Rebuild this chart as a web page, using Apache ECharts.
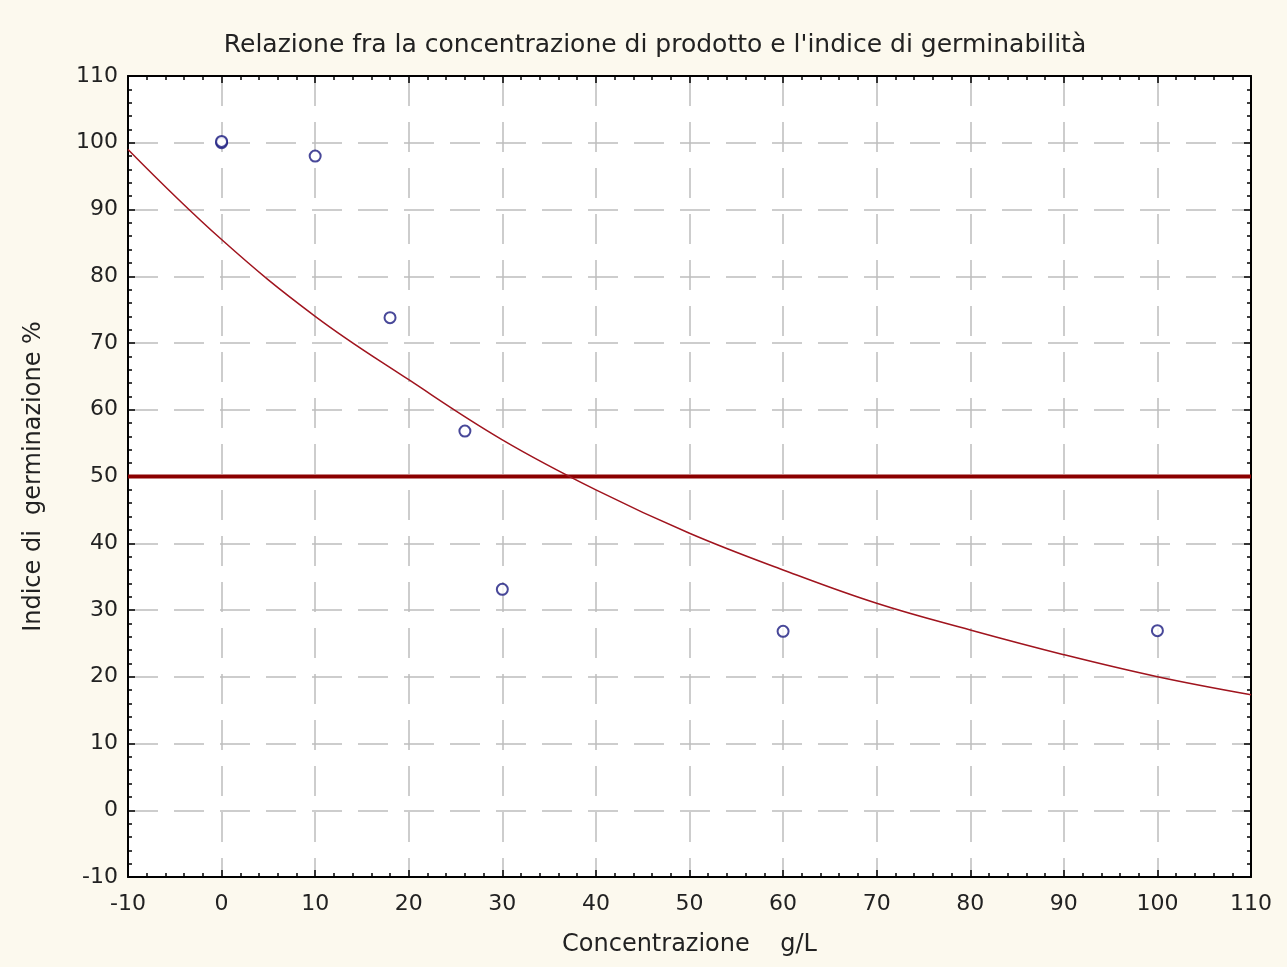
<!DOCTYPE html>
<html>
<head>
<meta charset="utf-8">
<script src="https://cdn.jsdelivr.net/npm/echarts@6.0.0/dist/echarts.min.js"></script>
<style>
  html, body { margin: 0; padding: 0; background: #fcf9ee; }
  #chart { width: 1287px; height: 967px; }
</style>
</head>
<body>
<div id="chart"></div>
<script>
    // Measured points (concentrazione g/L, indice di germinazione %)
    const pointsX = [0, 0, 10, 18, 26, 30, 60, 100];
    const pointsY = [100, 100.2, 98, 73.8, 56.8, 33.1, 26.8, 26.9];

    // Fitted curve, every 10 g/L
    const curveX = [-10, 0, 10, 20, 30, 40, 50, 60, 70, 80, 90, 100, 110];
    const curveY = [99, 85.5, 74, 64.5, 55.5, 48, 41.5, 36, 31, 27, 23.3, 20, 17.3];

    // 50% threshold line
    const thresholdX = [-10, 110];
    const thresholdY = [50, 50];

    const FONT = 'DejaVu Sans, Verdana, sans-serif';

    const chart = echarts.init(document.getElementById('chart'));

    function zipXY(xs, ys) {
        return xs.map((x, i) => [x, ys[i]]);
    }

    const tickStyle = { show: true, inside: true, length: 7, lineStyle: { color: '#000', width: 1.5 } };
    const minorTickStyle = { show: true, splitNumber: 5, length: 4, lineStyle: { color: '#000', width: 1.5 } };

    const option = {
        backgroundColor: '#fcf9ee',
        animation: false,
        title: {
            text: "Relazione fra la concentrazione di prodotto e l'indice di germinabilità",
            left: 650,
            textAlign: 'center',
            top: 28,
            textStyle: { fontFamily: FONT, fontSize: 25, fontWeight: 'normal', color: '#222' }
        },
        grid: {
            left: 128, right: 36, top: 76, bottom: 90,
            show: true, backgroundColor: '#ffffff', borderWidth: 0
        },
        xAxis: [
            {
                type: 'value', min: -10, max: 110, interval: 10,
                name: 'Concentrazione    g/L',
                nameLocation: 'middle', nameGap: 56,
                nameTextStyle: { fontFamily: FONT, fontSize: 24, color: '#222' },
                axisLine: { show: true, onZero: false, lineStyle: { color: '#000', width: 2 } },
                axisTick: tickStyle,
                minorTick: minorTickStyle,
                axisLabel: { fontFamily: FONT, fontSize: 22, color: '#222', margin: 16, showMinLabel: true, showMaxLabel: true },
                splitLine: { show: true, lineStyle: { color: '#bdbdbd', width: 1.5, type: [30, 16] } }
            },
            {
                type: 'value', min: -10, max: 110, interval: 10, position: 'top',
                axisLine: { show: true, onZero: false, lineStyle: { color: '#000', width: 2 } },
                axisTick: tickStyle,
                minorTick: minorTickStyle,
                axisLabel: { show: false },
                splitLine: { show: false }
            }
        ],
        yAxis: [
            {
                type: 'value', min: -10, max: 110, interval: 10,
                name: 'Indice di  germinazione %',
                nameLocation: 'middle', nameGap: 82, nameRotate: 90,
                nameTextStyle: { fontFamily: FONT, fontSize: 24, color: '#222' },
                axisLine: { show: true, onZero: false, lineStyle: { color: '#000', width: 2 } },
                axisTick: tickStyle,
                minorTick: minorTickStyle,
                axisLabel: { fontFamily: FONT, fontSize: 22, color: '#222', margin: 10, showMinLabel: true, showMaxLabel: true },
                splitLine: { show: true, lineStyle: { color: '#bdbdbd', width: 1.5, type: [30, 16] } }
            },
            {
                type: 'value', min: -10, max: 110, interval: 10, position: 'right',
                axisLine: { show: true, onZero: false, lineStyle: { color: '#000', width: 2 } },
                axisTick: tickStyle,
                minorTick: minorTickStyle,
                axisLabel: { show: false },
                splitLine: { show: false }
            }
        ],
        series: [
            {
                name: 'soglia',
                type: 'line',
                data: zipXY(thresholdX, thresholdY),
                showSymbol: false,
                lineStyle: { color: '#8b0000', width: 4 },
                z: 2
            },
            {
                name: 'curva',
                type: 'line',
                data: zipXY(curveX, curveY),
                smooth: 0.4,
                showSymbol: false,
                lineStyle: { color: '#a0141e', width: 1.5 },
                z: 3
            },
            {
                name: 'dati',
                type: 'scatter',
                data: zipXY(pointsX, pointsY),
                symbol: 'emptyCircle',
                symbolSize: 11,
                itemStyle: { color: '#1a1a80', borderWidth: 2.4 },
                z: 4
            }
        ]
    };

    chart.setOption(option);
</script>
</body>
</html>
